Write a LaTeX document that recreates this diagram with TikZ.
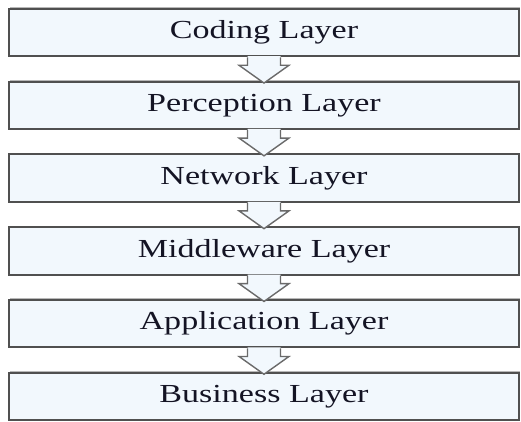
\documentclass[tikz,border=0pt]{standalone}
\usepackage{fontspec}
\setmainfont{Liberation Serif}
\usetikzlibrary{calc,shadows}
\definecolor{layerfill}{HTML}{F2F8FD}
\definecolor{layerline}{HTML}{505050}
\definecolor{layertext}{HTML}{141424}
\tikzset{
  layer/.style={draw=layerline, line width=2pt, fill=layerfill,
    minimum width=510pt, minimum height=47.5pt, inner sep=0pt,
    text=layertext, font=\fontsize{26}{30}\selectfont,
    drop shadow={shadow xshift=0.6pt, shadow yshift=1.6pt, fill=black!35, opacity=0.8}},
  flowfill/.style={fill=layerfill},
  flowline/.style={draw=layerline!85, line width=1.4pt, line join=miter}
}
\newcommand{\wide}[1]{\scalebox{1.31}[1]{#1}}
% hollow block arrow from the bottom of box #1 to the top of box #2
\newcommand{\flow}[2]{%
  \fill[flowfill] ($(#1.south)+(-16.5,-1.1)$) -- ($(#1.south)+(-16.5,8)$)
    -- ($(#1.south)+(-25,8)$) -- ($(#2.north)+(0,2.5)$)
    -- ($(#1.south)+(25,8)$) -- ($(#1.south)+(16.5,8)$)
    -- ($(#1.south)+(16.5,-1.1)$) -- cycle;
  \draw[flowline] ($(#1.south)+(-16.5,0)$) -- ($(#1.south)+(-16.5,8)$)
    -- ($(#1.south)+(-25,8)$) -- ($(#2.north)+(0,2.5)$)
    -- ($(#1.south)+(25,8)$) -- ($(#1.south)+(16.5,8)$)
    -- ($(#1.south)+(16.5,0)$);
}
\begin{document}
\begin{tikzpicture}[x=1pt,y=-1pt]
\useasboundingbox (0,0) rectangle (521,421);
\node[layer] (L1) at (264,32.5)  {\wide{Coding Layer}};
\node[layer] (L2) at (264,105.3) {\wide{Perception Layer}};
\node[layer] (L3) at (264,178.1) {\wide{Network Layer}};
\node[layer] (L4) at (264,250.9) {\wide{Middleware Layer}};
\node[layer] (L5) at (264,323.7) {\wide{Application Layer}};
\node[layer] (L6) at (264,396.5) {\wide{Business Layer}};
\flow{L1}{L2}
\flow{L2}{L3}
\flow{L3}{L4}
\flow{L4}{L5}
\flow{L5}{L6}
\end{tikzpicture}
\end{document}
